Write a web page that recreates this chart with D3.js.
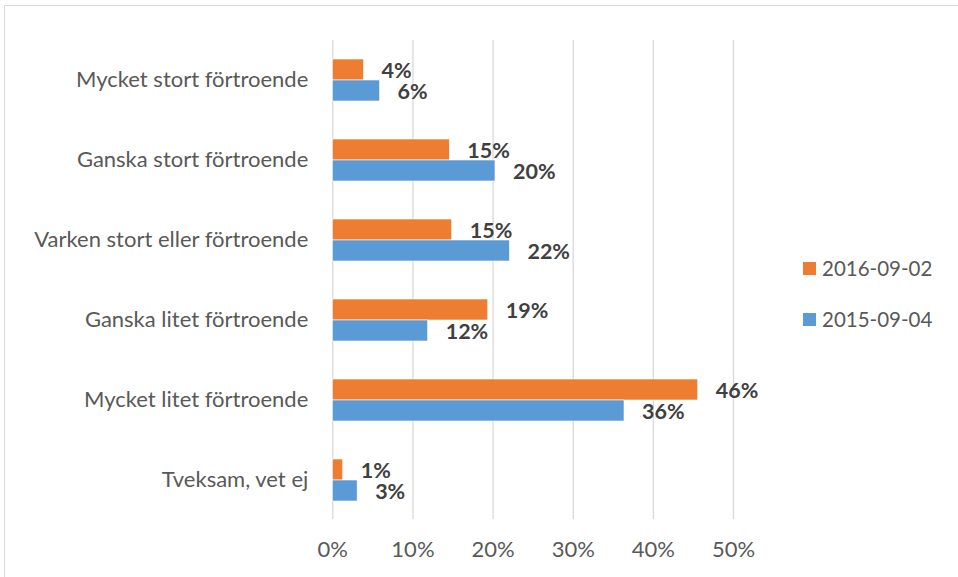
<!DOCTYPE html>
<html>
<head>
<meta charset="utf-8">
<script src="https://cdn.jsdelivr.net/npm/d3@7"></script>
<style>
  body { margin: 0; background: #fff; }
  svg { display: block; }
</style>
</head>
<body>
<div class="chart"></div>
<script>
var categories = ["Mycket stort förtroende", "Ganska stort förtroende", "Varken stort eller förtroende",
                  "Ganska litet förtroende", "Mycket litet förtroende", "Tveksam, vet ej"];
var series_names = ["2016-09-02", "2015-09-04"];
var values_2016 = [3.9, 14.6, 14.9, 19.4, 45.6, 1.3];
var values_2015 = [5.9, 20.3, 22.1, 11.9, 36.4, 3.1];
var tick_values = [0, 10, 20, 30, 40, 50];
var colors = ["#ED7D31", "#5B9BD5"];

var width = 958,
    height = 577,
    plot_left = 332.3,
    plot_right = 733,
    plot_top = 40,
    plot_bottom = 520,
    font = "Lato, 'Open Sans', sans-serif";

var svg = d3.select(".chart")
    .append("svg")
    .attr("width", width)
    .attr("height", height);

// chart frame (only top and left edges are visible)
svg.append("path")
    .attr("d", "M4.5," + height + "V5.5H" + width)
    .attr("fill", "none")
    .attr("stroke", "#d9d9d9")
    .attr("stroke-width", 1);

var x = d3.scaleLinear()
    .domain([0, 50])
    .range([plot_left, plot_right]);

var y = d3.scaleBand()
    .domain(categories)
    .range([plot_top, plot_bottom]);

var y_inner = d3.scaleBand()
    .domain(series_names)
    .range([0, y.bandwidth()])
    .paddingInner(0)
    .paddingOuter(0.905);

// gridlines + tick labels
var x_axis = svg.append("g")
    .attr("transform", "translate(0," + (plot_bottom - 1) + ")")
    .call(d3.axisBottom(x)
        .tickValues(tick_values)
        .tickFormat(function(d) { return d + "%"; })
        .tickSizeInner(-(plot_bottom - 1 - plot_top))
        .tickSizeOuter(0)
        .tickPadding(22));
x_axis.select(".domain").remove();
x_axis.selectAll(".tick line")
    .attr("stroke", "#d9d9d9")
    .attr("stroke-width", 1.3);
x_axis.selectAll(".tick text")
    .attr("fill", "#595959")
    .style("font-family", font)
    .style("font-size", "22px");

// category labels
var y_axis = svg.append("g")
    .attr("transform", "translate(" + plot_left + ",0)")
    .call(d3.axisLeft(y).tickSize(0).tickPadding(24));
y_axis.select(".domain").remove();
y_axis.selectAll(".tick text")
    .attr("fill", "#595959")
    .attr("dy", "0.32em")
    .style("font-family", font)
    .style("font-size", "22px");

var rows = categories.map(function(c, i) {
    return { category: c, values: [values_2016[i], values_2015[i]] };
});

var groups = svg.append("g")
    .selectAll("g")
    .data(rows)
    .join("g")
    .attr("transform", function(d) { return "translate(0," + y(d.category) + ")"; });

groups.selectAll("rect")
    .data(function(d) { return d.values.map(function(v, j) { return { name: series_names[j], value: v, color: colors[j] }; }); })
    .join("rect")
    .attr("x", x(0))
    .attr("y", function(d) { return y_inner(d.name); })
    .attr("width", function(d) { return x(d.value) - x(0); })
    .attr("height", y_inner.bandwidth())
    .attr("fill", function(d) { return d.color; })
    .attr("stroke", "#fff")
    .attr("stroke-width", 0.6);

groups.selectAll("text")
    .data(function(d) { return d.values.map(function(v, j) { return { name: series_names[j], value: v }; }); })
    .join("text")
    .attr("x", function(d) { return x(d.value) + 18; })
    .attr("y", function(d) { return y_inner(d.name) + y_inner.bandwidth() / 2 + 1; })
    .attr("dy", "0.35em")
    .attr("fill", "#404040")
    .style("font-family", font)
    .style("font-size", "21.5px")
    .style("font-weight", "bold")
    .text(function(d) { return Math.round(d.value) + "%"; });

// legend
var legend = svg.append("g")
    .selectAll("g")
    .data(series_names)
    .join("g")
    .attr("transform", function(d, i) { return "translate(803," + (262 + i * 51) + ")"; });

legend.append("rect")
    .attr("width", 13)
    .attr("height", 13)
    .attr("fill", function(d, i) { return colors[i]; });

legend.append("text")
    .attr("x", 19)
    .attr("y", 6.5)
    .attr("dy", "0.35em")
    .attr("fill", "#595959")
    .style("font-family", font)
    .style("font-size", "20.5px")
    .text(function(d) { return d; });
</script>
</body>
</html>
